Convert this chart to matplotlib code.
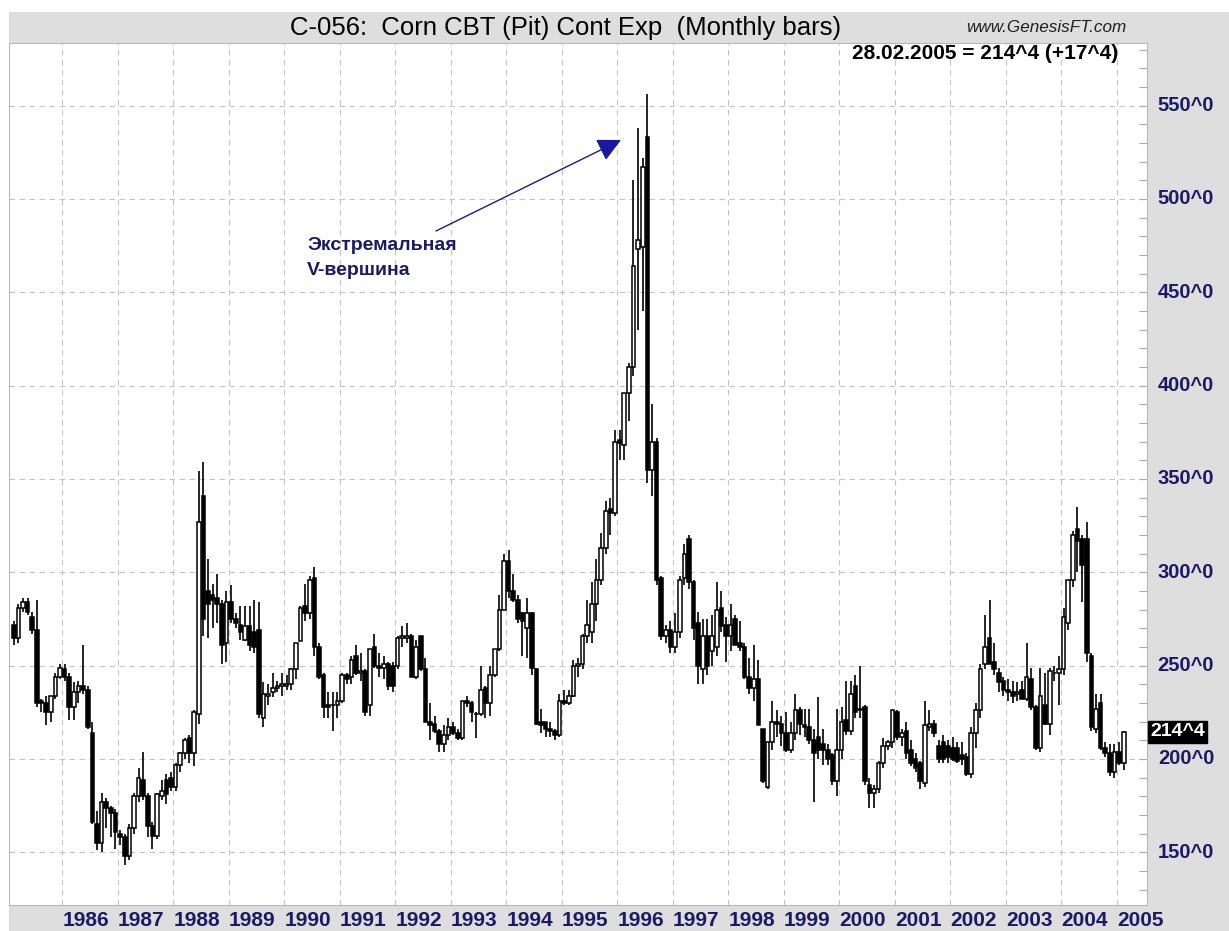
import numpy as np
import matplotlib
matplotlib.use("Agg")
import matplotlib.pyplot as plt
from matplotlib.patches import Rectangle
from matplotlib.transforms import blended_transform_factory

# ---------------- data (monthly bars, Feb 1985 .. Feb 2005) ----------------
start_year, start_month = 1985, 2

opens = [272,265,281,284,276,269,231,230,225,234,244,
         248,244,228,236,239,237,214,165,155,177,174,171,
         160,158,148,163,180,189,180,164,159,180,189,190,
         185,197,203,211,203,224,341,290,288,286,283,262,
         284,275,272,264,271,268,269,222,234,236,238,239,
         239,240,248,263,282,278,297,260,245,229,229,229,
         231,245,244,255,246,247,229,260,250,249,251,250,
         250,265,265,266,244,266,248,220,219,215,208,213,
         217,214,211,231,230,224,224,238,230,245,259,280,
         306,290,285,278,270,278,248,220,220,216,215,213,
         231,230,234,250,251,266,268,283,296,313,334,332,
         371,368,396,410,473,474,533,355,370,297,266,269,
         260,268,297,318,295,273,248,266,258,260,281,272,
         266,275,262,260,244,238,243,216,185,209,220,219,
         214,205,214,226,218,217,210,212,208,205,202,188,
         205,221,215,239,227,228,186,182,184,198,207,209,
         225,212,215,205,200,198,187,217,219,207,209,207,
         206,206,202,201,192,214,226,251,265,252,246,242,
         237,236,235,237,232,243,228,206,229,219,246,246,
         248,273,296,323,318,318,255,216,230,206,203,193,
         204,198]
highs = [274,283,286,286,279,285,232,234,234,246,251,
         251,246,241,242,261,239,220,172,182,179,175,173,
         162,160,165,182,195,204,182,166,182,189,192,193,
         198,204,211,213,226,354,359,307,294,299,285,290,
         293,278,282,282,282,285,284,241,240,246,242,246,
         245,249,262,282,294,298,303,262,246,236,236,236,
         246,246,255,261,257,248,259,267,257,255,252,252,
         266,271,273,267,264,266,254,230,223,216,218,222,
         220,216,231,234,231,225,250,239,250,259,288,310,
         312,299,288,279,286,279,249,227,220,220,216,235,
         237,237,253,254,267,285,295,307,321,338,340,376,
         376,396,412,510,538,522,556,390,372,298,272,274,
         278,298,315,320,296,279,275,275,277,295,290,276,
         283,277,274,262,254,261,253,216,209,231,226,223,
         225,220,235,228,227,227,216,233,216,208,203,227,
         228,242,242,245,250,229,190,186,199,211,210,226,
         226,216,220,210,203,199,231,226,221,210,213,210,
         212,209,209,203,217,230,251,277,285,262,249,244,
         243,242,241,242,262,249,229,249,246,249,250,255,
         281,296,322,335,320,327,257,235,235,209,208,208,
         209,215]
lows = [261,262,279,277,267,228,225,218,220,232,243,
        242,221,221,230,235,216,165,151,150,163,158,152,
        154,143,146,160,177,178,158,152,157,178,176,183,
        183,193,200,198,196,219,266,265,270,273,251,252,
        273,270,264,263,258,257,222,217,229,233,236,234,
        237,237,243,263,274,275,255,243,222,222,215,222,
        230,240,240,245,242,223,223,249,244,243,237,236,
        248,260,262,244,243,247,220,210,214,204,204,210,
        213,210,210,228,220,211,223,222,223,244,258,280,
        286,284,273,255,254,245,218,214,212,212,210,212,
        229,229,233,244,248,262,262,274,293,310,320,330,
        360,360,381,405,430,440,348,341,293,264,262,257,
        257,265,293,291,264,240,240,245,250,255,268,252,
        258,261,258,243,235,231,218,187,184,205,212,207,
        204,203,210,213,212,208,177,200,197,197,186,180,
        200,213,213,222,222,186,174,174,182,195,205,206,
        210,207,200,196,193,184,185,215,212,198,198,198,
        199,198,197,191,190,206,222,248,252,245,236,234,
        231,230,231,232,231,226,205,204,218,213,242,229,
        245,269,292,300,284,252,215,214,205,201,191,190,
        197,194]
closes = [265,281,284,279,269,230,230,225,234,244,249,
          244,228,236,239,237,217,166,155,177,174,171,161,
          158,148,163,180,190,180,164,159,181,183,181,185,
          197,203,210,203,225,327,275,283,285,283,261,284,
          275,273,268,271,261,260,224,235,235,238,239,240,
          240,248,262,281,278,296,260,244,228,228,229,231,
          245,243,253,246,247,225,259,250,249,251,239,239,
          265,266,266,244,260,248,220,218,215,208,213,217,
          214,211,231,230,225,224,237,230,245,259,280,306,
          290,285,275,274,278,249,219,218,216,215,213,231,
          230,234,250,251,266,272,283,296,313,333,332,370,
          369,396,410,464,478,517,355,370,296,266,269,260,
          268,296,310,295,270,250,266,250,266,280,271,266,
          272,261,260,244,238,243,218,188,209,220,219,214,
          205,214,226,219,217,210,203,205,205,200,188,205,
          220,215,235,225,226,188,182,184,198,207,209,226,
          212,214,203,198,195,188,218,219,214,200,200,201,
          200,199,200,192,214,226,248,260,251,248,241,237,
          236,234,236,232,244,228,206,234,219,247,246,248,
          276,296,320,317,304,257,217,227,206,203,193,204,
          198,214.5]

year_ticks = list(range(1986, 2006))
price_ticks = [150, 200, 250, 300, 350, 400, 450, 500, 550]
price_labels = ["150^0", "200^0", "250^0", "300^0", "350^0",
                "400^0", "450^0", "500^0", "550^0"]
title_text = "C-056:  Corn CBT (Pit) Cont Exp  (Monthly bars)"
site_text = "www.GenesisFT.com"
last_text = "28.02.2005 = 214^4 (+17^4)"
last_label = "214^4"
last_value = 214.5
note_lines = ["Экстремальная", "V-вершина"]

# ---------------- figure layout ----------------
W, H = 1229, 931
GRAY = "#dedede"
NAVY = "#1a1a66"
fig = plt.figure(figsize=(W / 100, H / 100), dpi=100, facecolor=GRAY)

def fx(px):
    return px / W

def fy(py):
    return 1 - py / H

# white strips on the far left and top of the image
fig.patches.append(Rectangle((0, 0), fx(9), 1, transform=fig.transFigure,
                             facecolor="white", edgecolor="none"))
fig.patches.append(Rectangle((0, fy(12)), 1, 1 - fy(12), transform=fig.transFigure,
                             facecolor="white", edgecolor="none"))

L, R, T, B = 9, 1147, 43, 905
ax = fig.add_axes([fx(L), fy(B), (R - L) / W, (B - T) / H])
ax.set_facecolor("white")

n = len(closes)
o = np.array(opens, float)
h = np.array(highs, float)
lo = np.array(lows, float)
c = np.array(closes, float)
x = start_year + (start_month - 1 + np.arange(n)) / 12.0 + 1 / 24.0

ax.vlines(x, lo, h, color="black", lw=1.2, zorder=3)
up = c >= o
bottoms = np.minimum(o, c)
heights = np.abs(c - o)
ax.bar(x, heights, width=0.066, bottom=bottoms,
       color=np.where(up, "white", "black"), edgecolor="black",
       linewidth=1.1, zorder=4)

ax.set_xlim(1985.040, 2005.544)
ax.set_ylim(121.77, 583.55)

ax.set_xticks(year_ticks)
ax.set_yticks(price_ticks)
ax.set_yticks(np.arange(130, 590, 10), minor=True)
ax.grid(True, which="major", color="#c4c4c4", linestyle=(0, (5, 4)), linewidth=0.8, zorder=1)
ax.tick_params(axis="x", which="both", length=0, labelbottom=False)
ax.yaxis.set_ticks_position("right")
ax.tick_params(axis="y", which="both", direction="in", length=6, color="#a8a8a8",
               width=0.8, labelright=False, labelleft=False)
for s in ax.spines.values():
    s.set_color("#b8b8b8")
    s.set_linewidth(0.8)

# right price labels
tr_r = blended_transform_factory(ax.transAxes, ax.transData)
for v, lab in zip(price_ticks, price_labels):
    ax.text((1186 - L) / (R - L), v, lab, transform=tr_r, ha="center", va="center",
            fontsize=14.5, fontweight="bold", color=NAVY, family="Liberation Sans",
            clip_on=False)
ax.text((1150 - L) / (R - L), last_value, last_label, transform=tr_r, ha="left",
        va="center", fontsize=14, fontweight="bold", color="white",
        family="Liberation Sans", clip_on=False,
        bbox=dict(boxstyle="square,pad=0.12", facecolor="black", edgecolor="black"))

# year labels (left aligned at the year grid line)
tr_b = blended_transform_factory(ax.transData, ax.transAxes)
for yr in year_ticks:
    ax.text(yr, -(920 - B) / (B - T), str(yr), transform=tr_b, ha="left", va="center",
            fontsize=15, fontweight="bold", color=NAVY, family="Liberation Sans",
            clip_on=False)

# title bar texts
fig.text(fx(566), fy(28), title_text, ha="center", va="center", fontsize=18.5,
         family="Liberation Sans", color="black")
fig.text(fx(1126), fy(27), site_text, ha="right", va="center", fontsize=12.3,
         style="italic", family="Liberation Sans", color="#202020")
ax.text((1118 - L) / (R - L), 1 - (53 - T) / (B - T), last_text, transform=ax.transAxes,
        ha="right", va="center", fontsize=15, fontweight="bold",
        family="Liberation Sans", color="black", zorder=7)

# annotation
def px2data(px, py):
    return 1986 + (px - 62.3) / 55.5, 150 + (852.3 - py) / 1.8667

tip = px2data(621, 140)
start = px2data(436, 231)
ax.annotate("", xy=tip, xytext=start,
            arrowprops=dict(arrowstyle="-|>,head_length=0.9,head_width=0.45",
                            color="#1818a0", lw=1.0, mutation_scale=16,
                            shrinkA=0, shrinkB=0), zorder=6)
tx, ty1 = px2data(307, 245)
_, ty2 = px2data(307, 270)
ax.text(tx, ty1, note_lines[0], ha="left", va="center", fontsize=14, fontweight="bold",
        color=NAVY, family="Liberation Sans", zorder=6)
ax.text(tx, ty2, note_lines[1], ha="left", va="center", fontsize=14, fontweight="bold",
        color=NAVY, family="Liberation Sans", zorder=6)

fig.savefig("out.png", dpi=100, facecolor=GRAY)
